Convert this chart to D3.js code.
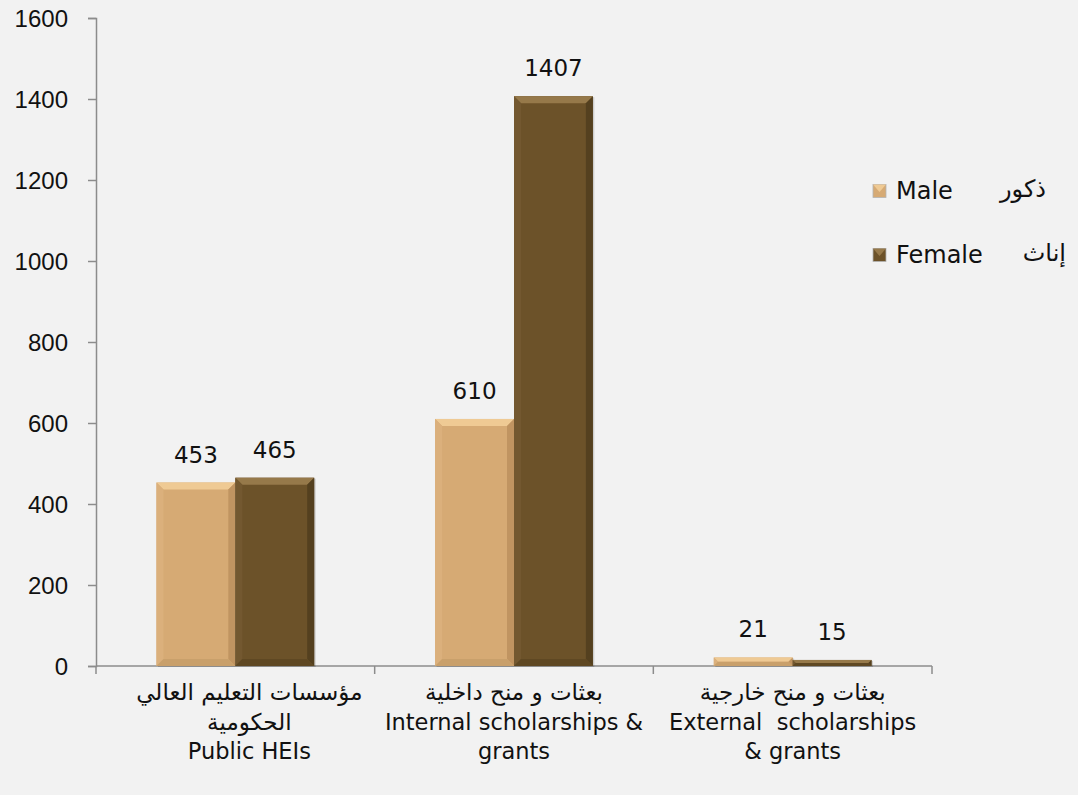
<!DOCTYPE html>
<html>
<head>
<meta charset="utf-8">
<script src="https://cdn.jsdelivr.net/npm/d3@7"></script>
<style>
  html, body { margin: 0; padding: 0; background: #f2f2f2; }
  svg { display: block; font-family: "DejaVu Sans", sans-serif; }
  .axis path, .axis line { stroke: #8c8c8c; stroke-width: 1.5; }
  .axis text { fill: #111; font-size: 24px; }
  .val { fill: #111; font-size: 23px; text-anchor: middle; }
  .cat { fill: #111; font-size: 22.5px; text-anchor: middle; white-space: pre; }
  .cat.ar { font-size: 23px; }
  .leg { fill: #111; font-size: 24px; }
  .leg.ar { font-size: 24px; }
</style>
</head>
<body>
<div id="chart"></div>
<script>
// data
const categoriesAr = ["مؤسسات التعليم العالي", "بعثات و منح داخلية", "بعثات و منح خارجية"];
const categoriesEn = [
  ["الحكومية", "Public HEIs"],
  ["Internal scholarships &", "grants"],
  ["External  scholarships", "& grants"]
];
const seriesNames = ["Male", "Female"];
const seriesNamesAr = ["ذكور", "إناث"];
const male = [453, 610, 21];
const female = [465, 1407, 15];
const yTicks = [0, 200, 400, 600, 800, 1000, 1200, 1400, 1600];

const W = 1078, H = 795;
const m = { top: 18, right: 146, bottom: 129, left: 96 };

// bar colours: base, top bevel, left, right, bottom
const pal = [
  { base: "#d6aa74", top: "#efca94", left: "#dbb07c", right: "#c09461", bottom: "#c9a06b" },
  { base: "#6c5229", top: "#96794a", left: "#735830", right: "#54401f", bottom: "#5f4823" }
];

const svg = d3.select("#chart").append("svg")
  .attr("width", W).attr("height", H);

const x = d3.scaleBand(d3.range(categoriesAr.length), [m.left, W - m.right])
  .paddingInner(0.434).paddingOuter(0.217);
const step = x.step();
const xs = d3.scaleBand(d3.range(seriesNames.length), [0, x.bandwidth()]);
const y = d3.scaleLinear([0, 1600], [H - m.bottom, m.top]);

// y axis
svg.append("g").attr("class", "axis")
  .attr("transform", `translate(${m.left},0)`)
  .call(d3.axisLeft(y).tickValues(yTicks).tickFormat(d3.format("d"))
    .tickSize(8).tickPadding(20).tickSizeOuter(8))
  .call(g => g.selectAll("text").attr("dy", "0.35em"));

// x axis baseline with category dividers
const xAxis = svg.append("g").attr("class", "axis");
xAxis.append("line")
  .attr("x1", m.left).attr("x2", W - m.right)
  .attr("y1", y(0)).attr("y2", y(0));
xAxis.selectAll(".div").data(d3.range(categoriesAr.length + 1)).join("line")
  .attr("x1", i => m.left + i * step).attr("x2", i => m.left + i * step)
  .attr("y1", y(0)).attr("y2", y(0) + 8);

// bevelled bars
const values = [male, female];
function bevelBar(g, x0, w, v, c) {
  const y0 = y(v), y1 = y(0), h = y1 - y0;
  const b = Math.min(7, h / 2, w / 2);
  g.append("rect").attr("x", x0 + 1.5).attr("y", y0 + 1).attr("width", w).attr("height", h)
    .attr("fill", "rgba(0,0,0,0.15)");
  g.append("rect").attr("x", x0).attr("y", y0).attr("width", w).attr("height", h).attr("fill", c.base);
  const poly = (pts, fill) => g.append("polygon").attr("points", pts.map(p => p.join(",")).join(" ")).attr("fill", fill);
  poly([[x0, y0], [x0 + w, y0], [x0 + w - b, y0 + b], [x0 + b, y0 + b]], c.top);
  poly([[x0, y0], [x0 + b, y0 + b], [x0 + b, y1 - b], [x0, y1]], c.left);
  poly([[x0 + w, y0], [x0 + w, y1], [x0 + w - b, y1 - b], [x0 + w - b, y0 + b]], c.right);
  poly([[x0, y1], [x0 + b, y1 - b], [x0 + w - b, y1 - b], [x0 + w, y1]], c.bottom);
}

const bars = svg.append("g");
values.forEach((vals, s) => {
  vals.forEach((v, i) => {
    const x0 = x(i) + xs(s);
    bevelBar(bars, x0, xs.bandwidth(), v, pal[s]);
    svg.append("text").attr("class", "val")
      .attr("x", x0 + xs.bandwidth() / 2)
      .attr("y", y(v) - 20)
      .text(v);
  });
});

// category labels
categoriesAr.forEach((ar, i) => {
  const cx = x(i) + x.bandwidth() / 2;
  const lines = [ar, ...categoriesEn[i]];
  lines.forEach((t, k) => {
    svg.append("text").attr("class", k === 0 || (i === 0 && k === 1) ? "cat ar" : "cat")
      .attr("x", cx + (i === 0 ? 14 : 0))
      .attr("y", y(0) + 34 + k * 29.5)
      .text(t);
  });
});

// legend
const leg = svg.append("g").attr("transform", `translate(${W - m.right - 59},0)`);
seriesNames.forEach((name, s) => {
  const ly = 191 + s * 64;
  const c = pal[s];
  const sz = 13;
  leg.append("rect").attr("x", 0).attr("y", ly - sz / 2).attr("width", sz).attr("height", sz).attr("fill", c.base)
    .attr("stroke", "#b3b3b3").attr("stroke-width", 0.8);
  leg.append("polygon")
    .attr("points", [[0, ly - sz / 2], [sz, ly - sz / 2], [sz / 2, ly + 1]].map(p => p.join(",")).join(" "))
    .attr("fill", c.top);
  leg.append("text").attr("class", "leg").attr("x", sz + 10).attr("y", ly).attr("dy", "0.35em").text(name);
  leg.append("text").attr("class", "leg ar").attr("text-anchor", "end")
    .attr("x", s === 0 ? 173 : 193).attr("y", ly - 2).attr("dy", "0.35em").text(seriesNamesAr[s]);
});
</script>
</body>
</html>
